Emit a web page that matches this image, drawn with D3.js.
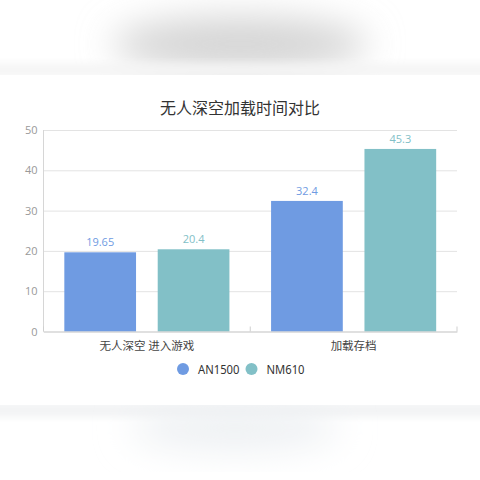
<!DOCTYPE html>
<html>
<head>
<meta charset="utf-8">
<script src="https://cdn.jsdelivr.net/npm/d3@7"></script>
<style>
  html, body { margin: 0; padding: 0; background: #fff; }
  svg { display: block; font-family: "Noto Sans CJK SC", "Open Sans", sans-serif; }
</style>
</head>
<body>
<svg id="chart" width="480" height="480"></svg>
<script>
const categories = ['无人深空 进入游戏', '加载存档'];
const seriesNames = ['AN1500', 'NM610'];
const an1500 = [19.65, 32.4];
const nm610 = [20.4, 45.3];
const yTicks = [0, 10, 20, 30, 40, 50];
const colors = ['#6f9be2', '#82c0c7'];

const svg = d3.select('#chart');

// blurred page behind the card
const defs = svg.append('defs');
defs.append('filter').attr('id', 'blur').attr('x', '-50%').attr('y', '-50%').attr('width', '200%').attr('height', '200%')
    .append('feGaussianBlur').attr('stdDeviation', 18);
defs.append('filter').attr('id', 'blur2').attr('x', '-50%').attr('y', '-50%').attr('width', '200%').attr('height', '200%')
    .append('feGaussianBlur').attr('stdDeviation', 5);

const bg = svg.append('g');
bg.append('ellipse').attr('cx', 240).attr('cy', 44).attr('rx', 128).attr('ry', 27)
    .attr('fill', '#d4d4d4').attr('filter', 'url(#blur)');
bg.append('rect').attr('x', -20).attr('y', 64).attr('width', 520).attr('height', 12)
    .attr('fill', '#f4f4f4').attr('filter', 'url(#blur2)');
bg.append('rect').attr('x', -20).attr('y', 404).attr('width', 520).attr('height', 12)
    .attr('fill', '#f0f1f3').attr('filter', 'url(#blur2)');
bg.append('ellipse').attr('cx', 235).attr('cy', 428).attr('rx', 105).attr('ry', 22)
    .attr('fill', '#edf0f3').attr('filter', 'url(#blur)');

svg.append('rect').attr('x', 0).attr('y', 75).attr('width', 480).attr('height', 330).attr('fill', '#fff');

const plotLeft = 43.5, plotRight = 457, plotTop = 130, plotBottom = 331.5;

const x0 = d3.scaleBand().domain(categories).range([plotLeft, plotRight]);
const x1 = d3.scaleBand().domain(seriesNames).range([0, x0.bandwidth()])
    .paddingInner(0.232).paddingOuter(0.223);
const y = d3.scaleLinear().domain([0, 50]).range([plotBottom, plotTop]);

svg.append('text')
    .attr('x', 240).attr('y', 114)
    .attr('text-anchor', 'middle')
    .attr('font-size', 16)
    .attr('fill', '#333')
    .text('无人深空加载时间对比');

// grid
svg.append('g')
    .attr('transform', 'translate(' + plotLeft + ',0)')
    .call(d3.axisLeft(y).tickValues(yTicks).tickSize(-(plotRight - plotLeft)).tickPadding(6))
    .call(g => g.select('.domain').remove())
    .call(g => g.selectAll('.tick line').attr('stroke', '#e3e3e3'))
    .call(g => g.selectAll('.tick text').attr('fill', '#999').attr('font-size', 11)
        .attr('font-family', '"Open Sans", sans-serif'));

svg.append('line')
    .attr('x1', plotLeft).attr('x2', plotLeft).attr('y1', plotTop).attr('y2', plotBottom)
    .attr('stroke', '#d6d6d6');

const data = seriesNames.map((s, i) => ({ name: s, values: i === 0 ? an1500 : nm610 }));

const groups = svg.append('g').selectAll('g')
    .data(categories)
    .join('g')
    .attr('transform', d => 'translate(' + x0(d) + ',0)');

groups.selectAll('rect')
    .data((c, ci) => data.map((s, si) => ({ s: s.name, v: s.values[ci], si })))
    .join('rect')
    .attr('x', d => x1(d.s))
    .attr('width', x1.bandwidth())
    .attr('y', d => y(d.v))
    .attr('height', d => y(0) - y(d.v))
    .attr('fill', d => colors[d.si]);

groups.selectAll('text.val')
    .data((c, ci) => data.map((s, si) => ({ s: s.name, v: s.values[ci], si })))
    .join('text')
    .attr('class', 'val')
    .attr('x', d => x1(d.s) + x1.bandwidth() / 2)
    .attr('y', d => y(d.v) - 6)
    .attr('text-anchor', 'middle')
    .attr('font-size', 11)
    .attr('font-family', '"Open Sans", sans-serif')
    .attr('fill', d => colors[d.si])
    .text(d => d.v);

// x axis
const xAxis = svg.append('g')
    .attr('transform', 'translate(0,' + plotBottom + ')')
    .call(d3.axisBottom(x0).tickSize(0).tickPadding(10));
xAxis.select('.domain').attr('stroke', '#cfcfcf');
xAxis.selectAll('.tick text').attr('fill', '#444').attr('font-size', 11.5)
    .attr('font-family', '"Noto Sans CJK SC", sans-serif');

const bounds = [plotLeft].concat(categories.map(c => x0(c) + x0.bandwidth()));
svg.append('g').selectAll('line')
    .data(bounds)
    .join('line')
    .attr('x1', d => d).attr('x2', d => d)
    .attr('y1', plotBottom - 5).attr('y2', plotBottom)
    .attr('stroke', '#cfcfcf');

// legend
const legend = svg.append('g').selectAll('g')
    .data(seriesNames)
    .join('g')
    .attr('transform', (d, i) => 'translate(' + (183 + i * 68.5) + ',369)');
legend.append('circle').attr('r', 6).attr('fill', (d, i) => colors[i]);
legend.append('text')
    .attr('x', 15).attr('y', 4.5)
    .attr('font-size', 12.5)
    .attr('font-family', '"Noto Sans", sans-serif')
    .attr('fill', '#333')
    .text(d => d)
    .each(function () {
        // squeeze a little, the original face is narrower
        const w = this.getComputedTextLength();
        d3.select(this).attr('textLength', w * 0.9).attr('lengthAdjust', 'spacingAndGlyphs');
    });
</script>
</body>
</html>
